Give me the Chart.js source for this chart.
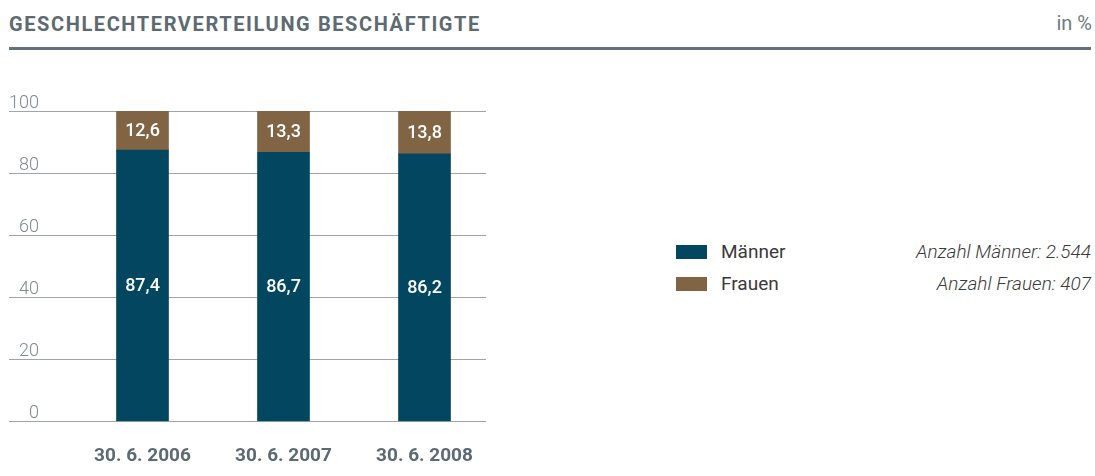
<!DOCTYPE html>
<html>
<head>
<meta charset="utf-8">
<script src="https://cdn.jsdelivr.net/npm/chart.js@4/dist/chart.umd.min.js"></script>
<style>
  body { margin: 0; background: #fff; font-family: Roboto, sans-serif; }
  #wrap { position: relative; width: 1095px; height: 476px; overflow: hidden; }
  #title { position: absolute; left: 9px; top: 12px; font-size: 20px; font-weight: 700; letter-spacing: 1.6px; color: #5d6a72; }
  #unit { position: absolute; right: 3px; top: 11px; font-size: 20px; color: #707a80; }
  #rule { position: absolute; left: 9px; top: 47px; width: 1082px; height: 3px; background: #65717a; }
  #chartBox { position: absolute; left: 0; top: 0; width: 520px; height: 496px; }
  .leg { position: absolute; left: 676px; width: 415px; height: 22px; font-size: 19px; color: #3a3a3a; }
  .leg .sw { position: absolute; left: 0; top: 4px; width: 31px; height: 14px; }
  .leg .nm { position: absolute; left: 45px; top: -1px; }
  .leg .cnt { position: absolute; right: 0; top: -1px; font-style: italic; font-weight: 300; color: #3a3a3a; }
</style>
</head>
<body>
<div id="wrap">
  <div id="title">GESCHLECHTERVERTEILUNG BESCHÄFTIGTE</div>
  <div id="unit">in %</div>
  <div id="rule"></div>
  <div id="chartBox"><canvas id="chart"></canvas></div>
  <div id="legend"></div>
</div>
<script>
// Data
const dates = ["30. 6. 2006", "30. 6. 2007", "30. 6. 2008"];
const maenner = [87.4, 86.7, 86.2];
const frauen = [12.6, 13.3, 13.8];
const yTicks = [0, 20, 40, 60, 80, 100];
const seriesNames = ["Männer", "Frauen"];
const counts = ["Anzahl Männer: 2.544", "Anzahl Frauen: 407"];
const colors = ["#02475f", "#806444"];

// legend on the right
const legendDiv = document.getElementById('legend');
seriesNames.forEach((name, i) => {
    const row = document.createElement('div');
    row.className = 'leg';
    row.style.top = (241 + i * 32) + 'px';
    row.innerHTML = `<div class="sw" style="background:${colors[i]}"></div>
        <div class="nm">${name}</div><div class="cnt">${counts[i]}</div>`;
    legendDiv.appendChild(row);
});

// gridlines + y labels drawn across the full width, label sits above its line
const gridPlugin = {
    id: 'gridPlugin',
    beforeDatasetsDraw(chart) {
        const ctx = chart.ctx;
        const y = chart.scales.y;
        ctx.save();
        yTicks.forEach(t => {
            const py = Math.round(y.getPixelForValue(t)) + 0.5;
            ctx.strokeStyle = '#9ea4a8';
            ctx.lineWidth = 1;
            ctx.beginPath();
            ctx.moveTo(9, py);
            ctx.lineTo(486, py);
            ctx.stroke();
            ctx.fillStyle = '#7f898f';
            ctx.font = '300 18px Roboto';
            ctx.textAlign = 'right';
            ctx.textBaseline = 'alphabetic';
            ctx.fillText(String(t), 39, py - 4);
        });
        ctx.restore();
    }
};

// values inside the bar segments
const valuePlugin = {
    id: 'valuePlugin',
    afterDatasetsDraw(chart) {
        const ctx = chart.ctx;
        ctx.save();
        ctx.fillStyle = '#ffffff';
        ctx.font = '500 18px Roboto';
        ctx.textAlign = 'center';
        ctx.textBaseline = 'middle';
        chart.data.datasets.forEach((ds, i) => {
            chart.getDatasetMeta(i).data.forEach((bar, j) => {
                const txt = ds.data[j].toFixed(1).replace('.', ',');
                ctx.fillText(txt, bar.x, (bar.y + bar.base) / 2 + 1);
            });
        });
        ctx.restore();
    }
};

const chartData = {
    labels: dates,
    datasets: [{
        label: seriesNames[0],
        data: maenner,
        backgroundColor: colors[0]
    }, {
        label: seriesNames[1],
        data: frauen,
        backgroundColor: colors[1]
    }]
};

const chartOptions = {
    responsive: true,
    maintainAspectRatio: false,
    animation: false,
    layout: {
        padding: { left: 72, right: 25, top: 111, bottom: 12 }
    },
    scales: {
        x: {
            stacked: true,
            grid: { display: false },
            border: { display: false },
            ticks: {
                color: '#5d6a72',
                font: { family: 'Roboto', size: 19, weight: 'bold' },
                padding: 16
            }
        },
        y: {
            stacked: true,
            display: false,
            min: 0,
            max: 100
        }
    },
    datasets: {
        bar: { barThickness: 52, categoryPercentage: 1 }
    },
    plugins: {
        legend: { display: false },
        tooltip: { enabled: false }
    }
};

const chart = new Chart(document.getElementById('chart'), {
    type: 'bar',
    data: chartData,
    options: chartOptions,
    plugins: [gridPlugin, valuePlugin]
});
</script>
</body>
</html>
